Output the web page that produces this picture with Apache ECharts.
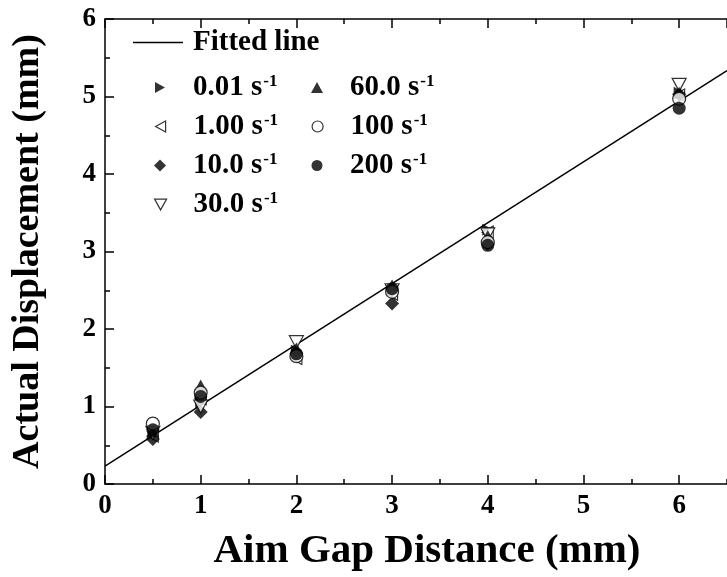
<!DOCTYPE html>
<html>
<head>
<meta charset="utf-8">
<script src="https://cdn.jsdelivr.net/npm/echarts@6/dist/echarts.min.js"></script>
<style>
  html, body { margin: 0; padding: 0; background: #fff; }
  #chart { width: 727px; height: 577px; }
</style>
</head>
<body>
<div id="chart"></div>
<script>
// Aim gap distance (mm) at which displacement was measured
const gapDistance = [0.5, 1, 2, 3, 4, 6];

// Measured displacement (mm) for each strain rate
const rate001 = [0.65, 1.05, 1.72, 2.50, 3.28, 5.05];
const rate1 = [0.62, 1.10, 1.62, 2.45, 3.25, 5.02];
const rate10 = [0.58, 0.93, 1.68, 2.33, 3.10, 5.03];
const rate30 = [0.66, 1.00, 1.83, 2.50, 3.22, 5.15];
const rate60 = [0.68, 1.27, 1.75, 2.56, 3.20, 5.05];
const rate100 = [0.78, 1.18, 1.65, 2.48, 3.12, 4.97];
const rate200 = [0.70, 1.13, 1.68, 2.52, 3.08, 4.85];

// Linear fit: displacement = slope * gap + intercept
const fitSlope = 0.785;
const fitIntercept = 0.23;
const fitX = [0, 6.5];

const seriesNames = ['0.01 s', '1.00 s', '10.0 s', '30.0 s', '60.0 s', '100 s', '200 s'];

// Marker glyphs for each strain rate (triangles point right, left, down, up)
const markerShapes = [
  'path://M0,0L9,5L0,10Z',
  'path://M9,0L0,5L9,10Z',
  'diamond',
  'path://M0,0L10,0L5,9Z',
  'path://M5,0L10,9L0,9Z',
  'circle',
  'circle'
];
const markerHollow = [false, true, false, true, false, true, false];
const markerSizes = [[11, 12], [11, 12], 14, [14, 13], [13, 12], 13, 13];
const legendSizes = [[10, 12], [10, 12], [12, 12], [12, 11], [12, 11], [11, 11], [11, 11]];
const rateValues = [rate001, rate1, rate10, rate30, rate60, rate100, rate200];

const FONT = "'Liberation Serif', 'Times New Roman', serif";

function pairs(ys) { return gapDistance.map((x, i) => [x, ys[i]]); }

function markerStyle(i) {
  return markerHollow[i]
    ? { color: '#fff', borderColor: '#000', borderWidth: 1.2 }
    : { color: '#000', borderWidth: 0 };
}

const richText = {
  t: { fontFamily: FONT, fontWeight: 'bold', fontSize: 29, color: '#000', lineHeight: 29 },
  s: { fontFamily: FONT, fontWeight: 'bold', fontSize: 17, color: '#000', verticalAlign: 'top', lineHeight: 17, padding: [0, 0, 0, 1] }
};

// Each legend row is its own block so every glyph keeps its own size
function legendRow(i, centerX, top) {
  const w = legendSizes[i][0];
  const h = legendSizes[i][1];
  return {
    data: [{ name: seriesNames[i], icon: markerShapes[i], itemStyle: markerStyle(i) }],
    orient: 'vertical', left: centerX - w / 2, top: top + (29 - h) / 2 - (29 - h) / 2,
    itemWidth: w, itemHeight: h,
    selectedMode: false, padding: 0,
    formatter: n => '{t|' + n + '}{s|-1}',
    textStyle: { rich: richText, padding: [0, 0, 0, 33 - w / 2 - 5] }
  };
}

function gapAxis(position, interval, tickLen, showLine, showLabel) {
  return {
    type: 'value', position: position, min: 0, max: 6.5, interval: interval,
    axisLine: { show: showLine, onZero: false, lineStyle: { color: '#000', width: 1.5 } },
    axisTick: { show: true, inside: true, length: tickLen, lineStyle: { color: '#000', width: 1.5 } },
    axisLabel: {
      show: showLabel, showMaxLabel: false, margin: 9,
      fontFamily: FONT, fontWeight: 'bold', fontSize: 27, color: '#000'
    },
    splitLine: { show: false }
  };
}

function dispAxis(interval, tickLen, showLine, showLabel) {
  return {
    type: 'value', position: 'left', min: 0, max: 6, interval: interval,
    axisLine: { show: showLine, onZero: false, lineStyle: { color: '#000', width: 1.5 } },
    axisTick: { show: true, inside: true, length: tickLen, lineStyle: { color: '#000', width: 1.5 } },
    axisLabel: { show: showLabel, margin: 9, fontFamily: FONT, fontWeight: 'bold', fontSize: 27, color: '#000' },
    splitLine: { show: false }
  };
}

const xMain = gapAxis('bottom', 1, 9, true, true);
xMain.name = 'Aim Gap Distance (mm)';
xMain.nameLocation = 'middle';
xMain.nameGap = 47;
xMain.nameTextStyle = { fontFamily: FONT, fontWeight: 'bold', fontSize: 41, color: '#000', padding: [0, 0, 0, 22] };

const yMain = dispAxis(1, 9, true, true);
yMain.name = 'Actual Displacement (mm)';
yMain.nameLocation = 'middle';
yMain.nameGap = 58;
yMain.nameTextStyle = { fontFamily: FONT, fontWeight: 'bold', fontSize: 38, color: '#000' };

const scatterSeries = seriesNames.map((name, i) => ({
  name: name, type: 'scatter', xAxisIndex: 0, yAxisIndex: 0,
  data: pairs(rateValues[i]),
  symbol: markerShapes[i], symbolSize: markerSizes[i], symbolKeepAspect: false,
  itemStyle: markerStyle(i), z: 3
}));

const rowTops = [73, 112, 151, 190];

const chart = echarts.init(document.getElementById('chart'), null, { renderer: 'canvas' });

chart.setOption({
  animation: false,
  backgroundColor: '#fff',
  grid: { left: 105, top: 19, width: 627, height: 466 },
  xAxis: [
    xMain,
    gapAxis('bottom', 0.5, 5, false, false),
    gapAxis('top', 1, 9, true, false),
    gapAxis('top', 0.5, 5, false, false)
  ],
  yAxis: [
    yMain,
    dispAxis(0.5, 5, false, false)
  ],
  legend: [
    {
      data: [{ name: 'Fitted line', icon: 'rect' }], left: 133, top: 28, itemWidth: 50, itemHeight: 1.5,
      itemStyle: { color: '#000' },
      selectedMode: false, padding: 0,
      textStyle: { fontFamily: FONT, fontWeight: 'bold', fontSize: 29, color: '#000', padding: [0, 0, 0, 5] }
    },
    legendRow(0, 160, rowTops[0]),
    legendRow(1, 160, rowTops[1]),
    legendRow(2, 160, rowTops[2]),
    legendRow(3, 160, rowTops[3]),
    legendRow(4, 317, rowTops[0]),
    legendRow(5, 317, rowTops[1]),
    legendRow(6, 317, rowTops[2])
  ],
  series: [
    {
      name: 'Fitted line', type: 'line', xAxisIndex: 0, yAxisIndex: 0,
      data: fitX.map(x => [x, fitSlope * x + fitIntercept]),
      symbol: 'none', itemStyle: { color: '#000' }, lineStyle: { color: '#000', width: 1.5 }, z: 2
    }
  ].concat(scatterSeries)
});
</script>
</body>
</html>
